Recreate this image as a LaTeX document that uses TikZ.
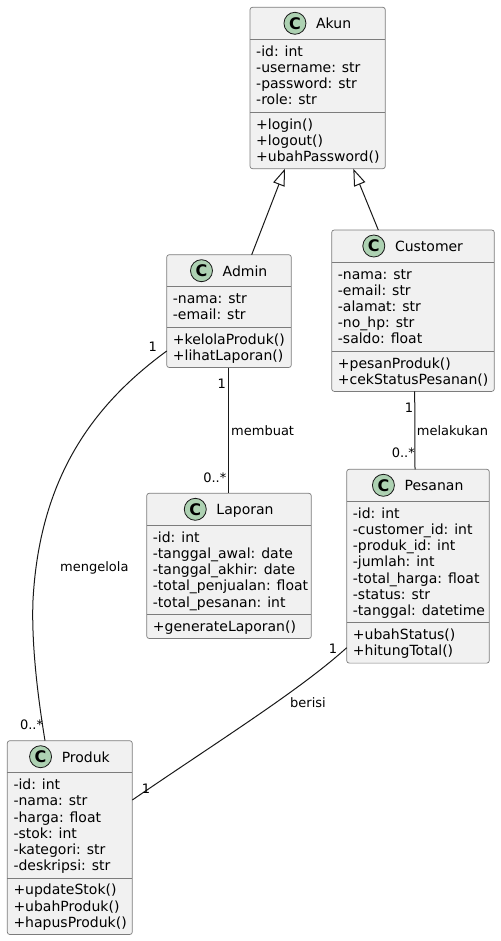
\documentclass[tikz,border=0pt]{standalone}
\usepackage{fontspec}
\setmainfont{DejaVu Sans}
\usetikzlibrary{arrows.meta}
\definecolor{boxfill}{HTML}{F1F1F1}
\definecolor{boxline}{HTML}{7C7C7C}
\definecolor{inkline}{HTML}{181818}
\definecolor{iconfill}{HTML}{ADD1B2}
\tikzset{
  classbox/.style={draw=boxline, fill=boxfill, line width=0.7pt, rounded corners=2.5pt, inner sep=0pt, outer sep=0pt},
  sepline/.style={draw=boxline, line width=0.7pt},
  titlenode/.style={inner sep=0pt, font=\fontsize{14}{16}\selectfont, text height=10.6pt, text depth=0pt},
  cicon/.style={circle, draw=inkline, fill=iconfill, line width=0.8pt, minimum size=22pt, inner sep=0pt, font=\fontsize{16}{16}\selectfont\bfseries},
  member/.style={anchor=base west, inner sep=0pt, font=\fontsize{14}{16}\selectfont},
  conn/.style={draw=inkline, line width=1pt},
  inherit/.style={conn, -{Triangle[open, length=17pt, width=12pt]}},
  lbl/.style={inner sep=0pt, font=\fontsize{13}{15}\selectfont},
}
% name, L, T, R, title, nAttr, nMeth, attrs, methods
\newcommand\umlclass[9]{%
  \pgfmathsetmacro\ucSa{#3+32}%
  \pgfmathsetmacro\ucSb{\ucSa+8+16.2*#6}%
  \pgfmathsetmacro\ucBt{\ucSb+8+16.2*#7}%
  \node[classbox, minimum width={#4-#2}, minimum height={\ucBt-#3}, anchor=north west] (#1) at (#2,#3) {};
  \draw[sepline] (#2,\ucSa) -- (#4,\ucSa);
  \draw[sepline] (#2,\ucSb) -- (#4,\ucSb);
  \node[titlenode] (#1-title) at ({(#2+#4)/2},{#3+16}) {\hspace*{32pt}#5};
  \node[cicon] (#1-icon) at ([xshift=11pt]#1-title.west) {C};
  \foreach \t [count=\i from 0] in {#8} \node[member] (#1-a\i) at ({#2+6},{\ucSa+17+16.2*\i}) {\t};
  \foreach \t [count=\i from 0] in {#9} \node[member] (#1-m\i) at ({#2+6},{\ucSb+17+16.2*\i}) {\t};
}
\begin{document}
\begin{tikzpicture}[x=1pt,y=-1pt]
\useasboundingbox (0,0) rectangle (500,941);

\umlclass{akun}{250}{7.3}{385.3}{Akun}{4}{3}%
  {-id: int,-username: str,-password: str,-role: str}%
  {+login(),+logout(),+ubahPassword()}
\umlclass{customer}{331.7}{230}{494.3}{Customer}{5}{2}%
  {-nama: str,-email: str,-alamat: str,-no\_hp: str,-saldo: float}%
  {+pesanProduk(),+cekStatusPesanan()}
\umlclass{admin}{166.7}{254.7}{291.3}{Admin}{2}{2}%
  {-nama: str,-email: str}%
  {+kelolaProduk(),+lihatLaporan()}
\umlclass{laporan}{146.7}{493.3}{311.3}{Laporan}{5}{1}%
  {-id: int,-tanggal\_awal: date,-tanggal\_akhir: date,-total\_penjualan: float,-total\_pesanan: int}%
  {+generateLaporan()}
\umlclass{pesanan}{346.7}{469.3}{489.3}{Pesanan}{7}{2}%
  {-id: int,-customer\_id: int,-produk\_id: int,-jumlah: int,-total\_harga: float,-status: str,-tanggal: datetime}%
  {+ubahStatus(),+hitungTotal()}
\umlclass{produk}{7.3}{740.7}{132.3}{Produk}{6}{3}%
  {-id: int,-nama: str,-harga: float,-stok: int,-kategori: str,-deskripsi: str}%
  {+updateStok(),+ubahProduk(),+hapusProduk()}

% inheritance
\draw[inherit] ([xshift=85pt]admin.north west) -- ([xshift=35pt]akun.south west);
\draw[inherit] ([xshift=46.6pt]customer.north west) -- ([xshift=103.3pt]akun.south west);

% Admin -- Laporan
\draw[conn] ([xshift=61.6pt]admin.south west) -- ([xshift=81.6pt]laporan.north west);
\node[lbl, anchor=base east] (ml1) at (226,388) {1};
\node[lbl, anchor=base east] (ml2) at (226.5,482) {0..*};
\node[lbl, anchor=base west] (ml3) at (231,435.5) {membuat};

% Customer -- Pesanan
\draw[conn] ([xshift=83pt]customer.south west) -- ([xshift=68.3pt]pesanan.north west);
\node[lbl, anchor=base east] (cl1) at (413.3,412) {1};
\node[lbl, anchor=base west] (cl2) at (416.7,435.5) {melakukan};
\node[lbl, anchor=base east] (cl3) at (415,457.4) {0..*};

% Admin -- Produk
\draw[conn] ([yshift=-96.3pt]admin.north west) .. controls (100,400) and (40,470) .. (33,600)
  .. controls (31,650) and (40,710) .. ([xshift=37.7pt]produk.north west);
\node[lbl, anchor=base east] (al1) at (157,351.4) {1};
\node[lbl, anchor=base west] (al2) at (60,571.4) {mengelola};
\node[lbl, anchor=base east] (al3) at (43.3,729.7) {0..*};

% Pesanan -- Produk
\draw[conn] ([yshift=-178.4pt]pesanan.north west) .. controls (300,690) and (220,740) .. ([yshift=-59.3pt]produk.north east);
\node[lbl, anchor=base east] (pl1) at (337.3,653) {1};
\node[lbl, anchor=base west] (pl2) at (290,707.4) {berisi};
\node[lbl, anchor=base west] (pl3) at (141.7,793) {1};
\end{tikzpicture}
\end{document}
